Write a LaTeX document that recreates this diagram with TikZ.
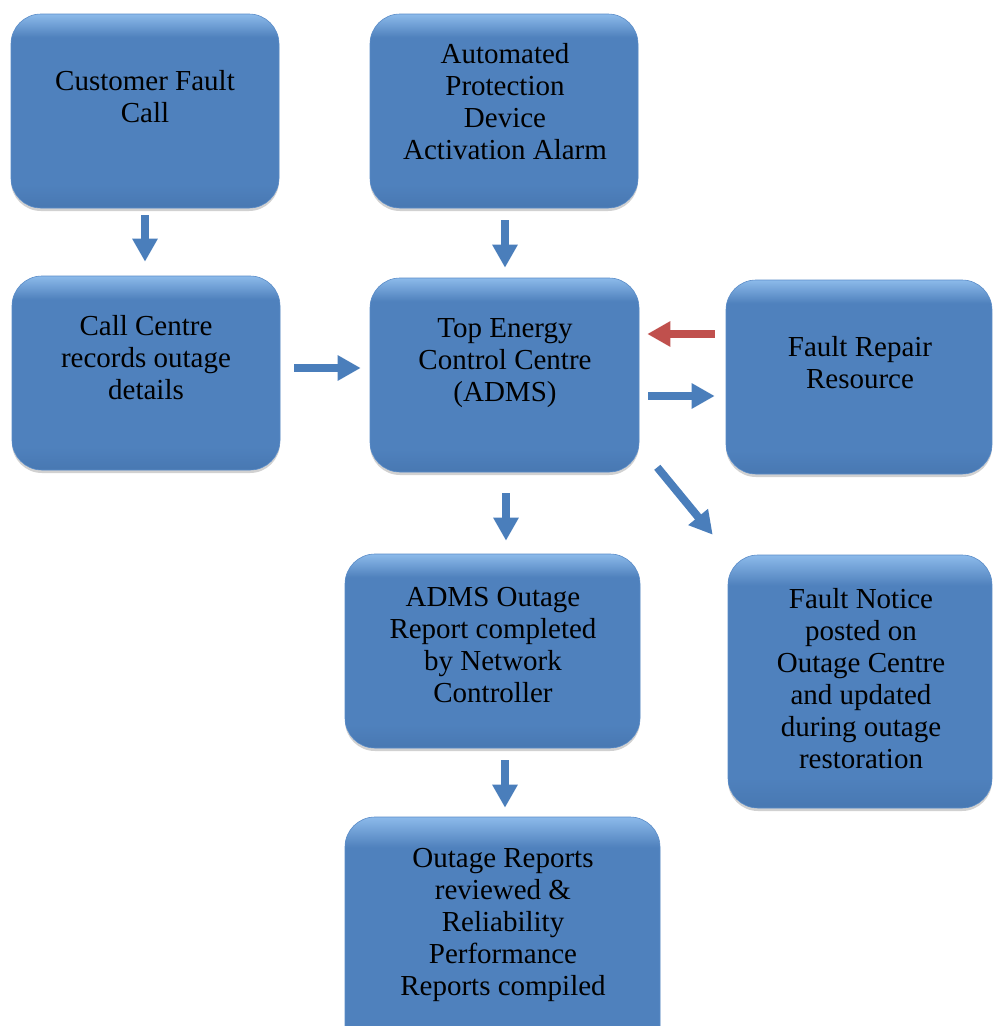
\documentclass[tikz,border=0pt]{standalone}
\usepackage{fontspec}
\setmainfont{Liberation Serif}
\usetikzlibrary{arrows.meta,shadows}
\definecolor{boxblue}{HTML}{4F81BD}
\definecolor{boxlight}{HTML}{8CBAEA}
\definecolor{boxdark}{HTML}{4878B2}
\definecolor{boxedge}{HTML}{5A8CC8}
\definecolor{arrblue}{HTML}{4A7EBB}
\definecolor{arrred}{HTML}{C0504D}
\pgfdeclareverticalshading{bevel}{100bp}{color(0bp)=(boxdark); color(25bp)=(boxdark); color(31bp)=(boxblue); color(69bp)=(boxblue); color(75bp)=(boxlight); color(100bp)=(boxlight)}
\tikzset{
  box/.style 2 args={draw=boxedge, line width=0.6pt, rounded corners=30pt, shading=bevel,
    minimum width=#1, minimum height=#2, inner sep=0pt,
    drop shadow={shadow xshift=0pt, shadow yshift=-3pt, opacity=0.18, fill=black}},
  lbl/.style={font=\fontsize{29}{32}\selectfont, align=center, inner sep=0pt, text=black},
  arr/.style={draw=arrblue, line width=8pt, -{Triangle[width=24pt,length=23pt]}},
  arrr/.style={arr, draw=arrred},
}
\begin{document}
\begin{tikzpicture}[x=1pt, y=-1pt]
\useasboundingbox (0,0) rectangle (993,1026);
\fill[white] (0,0) rectangle (993,1026);
% boxes
\node[box={268pt}{194pt}] (b1) at (145,111) {};
\node[box={268pt}{194pt}] (b2) at (504,111) {};
\node[box={268pt}{194pt}] (b3) at (146,373) {};
\node[box={269pt}{194pt}] (b4) at (504.5,375) {};
\node[box={266pt}{194pt}] (b5) at (859,377) {};
\node[box={295pt}{194pt}] (b6) at (492.5,651) {};
\node[box={264pt}{253pt}] (b7) at (860,681.5) {};
\node[box={315pt}{253pt}] (b8) at (502.5,943.5) {};
% labels
\node[lbl] (t1) at (145,97) {Customer Fault\\Call};
\node[lbl] (t2) at (505,102) {Automated\\Protection\\Device\\Activation Alarm};
\node[lbl] (t3) at (146,358) {Call Centre\\records outage\\details};
\node[lbl] (t4) at (505,363) {Top Energy\\Control Centre\\(ADMS)};
\node[lbl] (t5) at (860,363) {Fault Repair\\Resource};
\node[lbl] (t6) at (493,645) {ADMS Outage\\Report completed\\by Network\\Controller};
\node[lbl] (t7) at (861,679) {Fault Notice\\posted on\\Outage Centre\\and updated\\during outage\\restoration};
\node[lbl] (t8) at (503,925) {Outage Reports\\reviewed \&\\Reliability\\Performance\\Reports compiled};
% connectors
\draw[arr] ([yshift=-7pt]b1.south) -- ([xshift=-1pt,yshift=14pt]b3.north);
\draw[arr] ([xshift=1pt,yshift=-12pt]b2.south) -- ([xshift=0.5pt,yshift=10pt]b4.north);
\draw[arr] ([xshift=14pt,yshift=5pt]b3.east) -- ([xshift=-9pt,yshift=7pt]b4.west);
\draw[arrr] ([xshift=-11pt,yshift=43pt]b5.west) -- ([xshift=8pt,yshift=41pt]b4.east);
\draw[arr] ([xshift=9pt,yshift=-21pt]b4.east) -- ([xshift=-11pt,yshift=-19pt]b5.west);
\draw[arr] ([xshift=18pt,yshift=5pt]b4.south east) -- ([xshift=-15pt,yshift=20pt]b7.north west);
\draw[arr] ([xshift=1.5pt,yshift=-21pt]b4.south) -- ([xshift=13.5pt,yshift=13pt]b6.north);
\draw[arr] ([xshift=12.5pt,yshift=-12pt]b6.south) -- ([xshift=2.5pt,yshift=9pt]b8.north);
\end{tikzpicture}
\end{document}
